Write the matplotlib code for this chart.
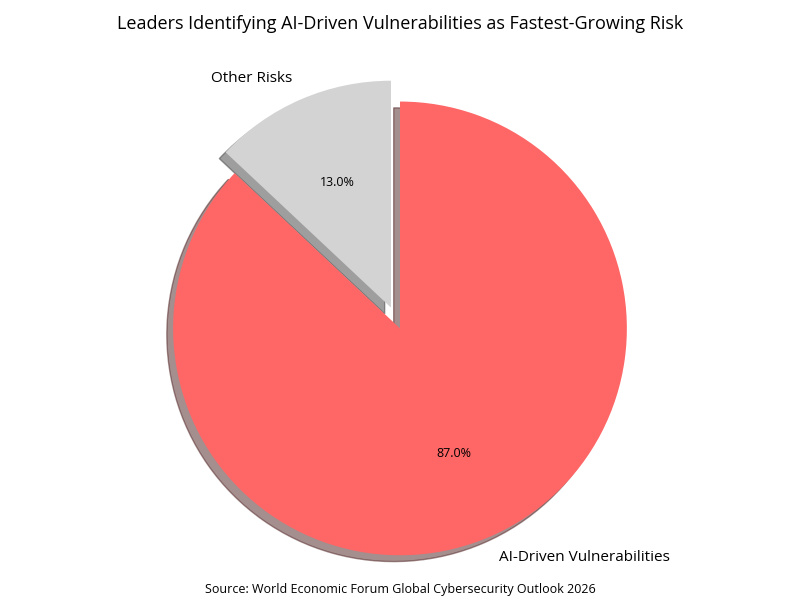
import matplotlib.pyplot as plt

plt.rcParams['font.family'] = ['Open Sans', 'DejaVu Sans']

labels = ['Other Risks', 'AI-Driven Vulnerabilities']
shares = [13.0, 87.0]
colors = ['#d3d3d3', '#ff6666']
explode = [0.1, 0]

fig, ax = plt.subplots(figsize=(8, 6), dpi=100)
wedges, texts, autotexts = ax.pie(
    shares, labels=labels, colors=colors, explode=explode,
    autopct='%1.1f%%', startangle=90, shadow=True,
    textprops={'fontsize': 11})
for t in autotexts:
    t.set_fontsize(9)
ax.axis('equal')
fig.suptitle('Leaders Identifying AI-Driven Vulnerabilities as Fastest-Growing Risk',
             fontsize=13, y=0.975)
fig.text(0.5, 0.012, 'Source: World Economic Forum Global Cybersecurity Outlook 2026',
         ha='center', fontsize=9)
plt.subplots_adjust(left=0.05, right=0.95, top=0.905, bottom=0.035)
plt.savefig('out.png')
